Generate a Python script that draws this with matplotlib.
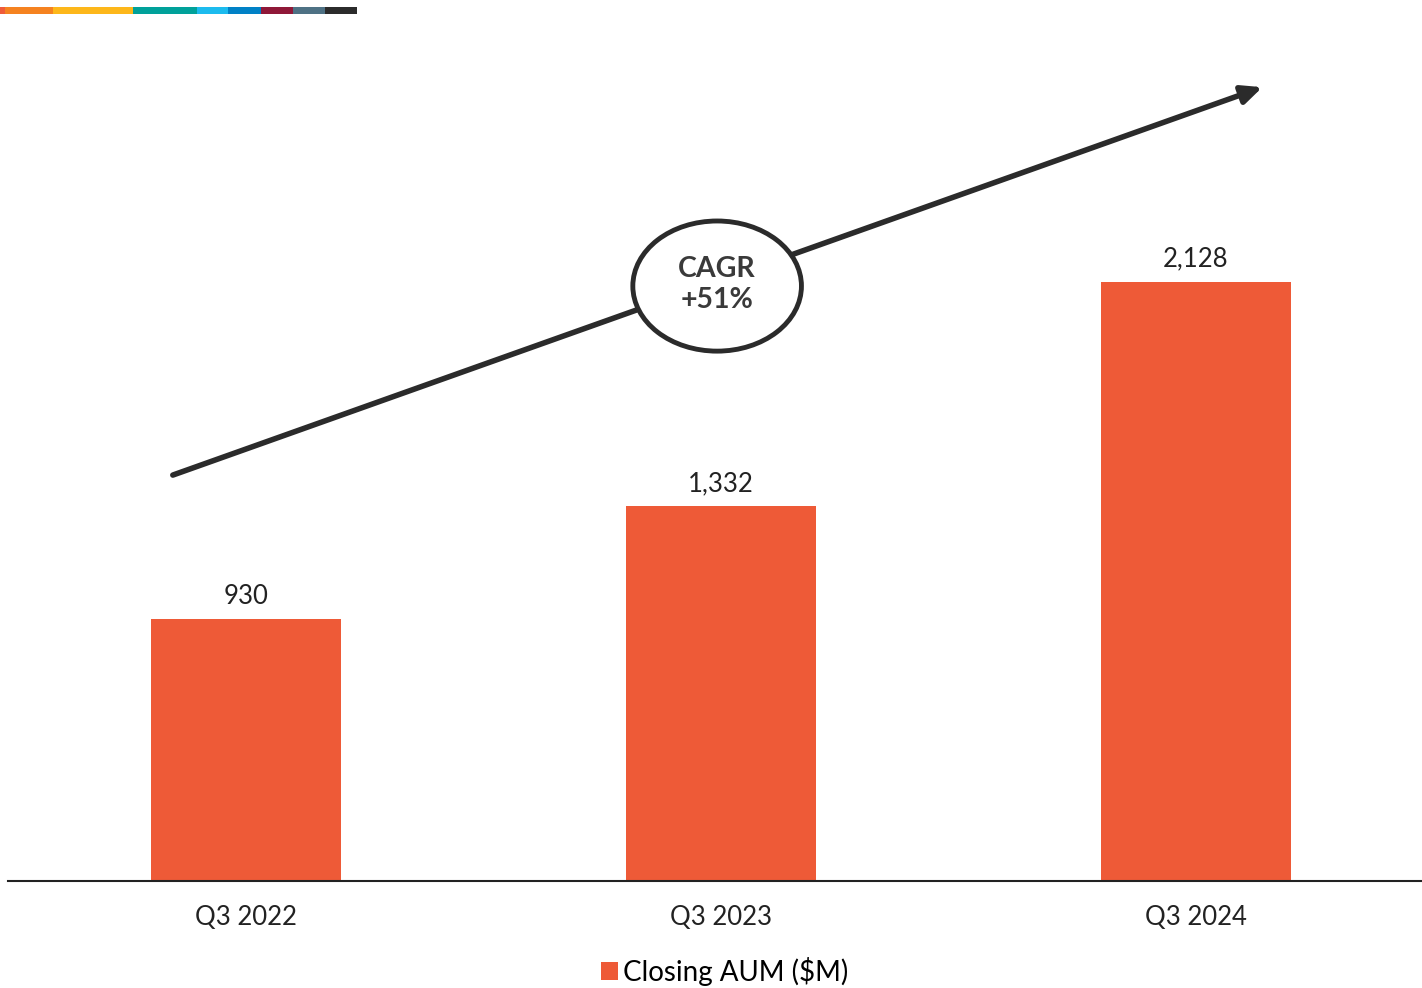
import matplotlib.pyplot as plt
from matplotlib.patches import Ellipse, Rectangle

# chart data
quarters = ["Q3 2022", "Q3 2023", "Q3 2024"]
aum = [930, 1332, 2128]
value_labels = ["930", "1,332", "2,128"]
series_name = "Closing AUM ($M)"
cagr_text = "CAGR\n+51%"

BAR = "#EE5A37"
DARK = "#2B2B2B"

# decorative strip in the top-left corner (pixel edges)
strip_edges = [0, 5, 53, 133, 197, 228, 261, 293, 325, 357]
strip_colors = ["#EF5B3A", "#F58220", "#FDB71A", "#00A19A", "#1CBBEE",
                "#0081C6", "#8F1838", "#4E7184", "#2B2B2B"]

W, H = 1422, 988
fig = plt.figure(figsize=(W / 100, H / 100), dpi=100)
plt.rcParams["font.family"] = ["Lato", "DejaVu Sans"]

ax = fig.add_axes([8 / W, (H - 881) / H, (W - 8) / W, 851 / H])
x = list(range(len(quarters)))
bars = ax.bar(x, aum, width=0.4, color=BAR, label=series_name, zorder=2)
for xi, v, lab in zip(x, aum, value_labels):
    ax.text(xi, v + 35, lab, ha="center", va="bottom", fontsize=18.5, color="#222222")

ax.set_xlim(-0.501, 2.476)
ax.set_ylim(0, 3021)
ax.set_xticks(x)
ax.set_xticklabels(quarters, fontsize=18.5, color="#222222")
ax.tick_params(axis="x", length=0, pad=17)
ax.set_yticks([])
for s in ["top", "right", "left"]:
    ax.spines[s].set_visible(False)
ax.spines["bottom"].set_linewidth(1.5)
ax.spines["bottom"].set_color("#222222")

# growth arrow with CAGR bubble
ax.annotate("", xy=(2.14, 2818), xytext=(-0.154, 1441),
            arrowprops=dict(arrowstyle="-|>,head_length=1.2,head_width=0.55",
                            lw=4, color=DARK, shrinkA=0, shrinkB=0), zorder=3)
ax.add_patch(Ellipse((0.992, 2112), 0.355, 462, facecolor="white",
                     edgecolor=DARK, lw=3.5, zorder=4))
ax.text(0.992, 2118, cagr_text, ha="center", va="center", fontsize=20.5,
        fontweight="bold", color="#3A3A3A", linespacing=1.25, zorder=5)

for c, x0, x1 in zip(strip_colors, strip_edges[:-1], strip_edges[1:]):
    fig.patches.append(Rectangle((x0 / W, 1 - 14 / H), (x1 - x0) / W, 7 / H,
                                 transform=fig.transFigure, color=c, lw=0))

fig.legend(handles=[bars], labels=[series_name], loc="center",
           bbox_to_anchor=(725 / W, 1 - 971 / H), frameon=False, fontsize=20,
           handlelength=0.6, handleheight=0.6, handletextpad=0.2)

fig.savefig("out.png", dpi=100)
